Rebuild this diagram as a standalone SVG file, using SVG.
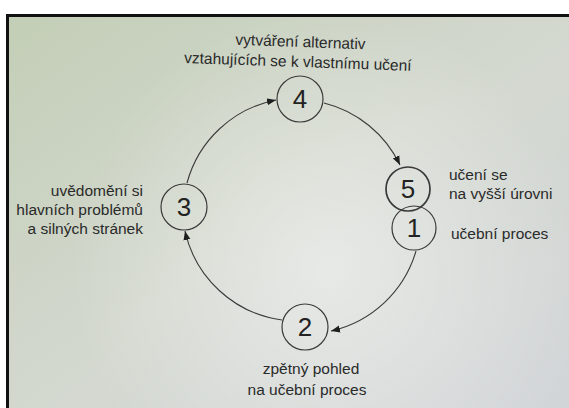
<svg xmlns="http://www.w3.org/2000/svg" width="569" height="408" viewBox="0 0 569 408">
  <defs>
    <linearGradient id="paper" x1="0" y1="0" x2="1" y2="1">
      <stop offset="0" stop-color="#c3ceb6"/>
      <stop offset="0.5" stop-color="#d3d8cf"/>
      <stop offset="1" stop-color="#d2d5d8"/>
    </linearGradient>
    <radialGradient id="glow" cx="330" cy="270" r="260" gradientUnits="userSpaceOnUse">
      <stop offset="0" stop-color="#ffffff" stop-opacity="0.45"/>
      <stop offset="1" stop-color="#ffffff" stop-opacity="0"/>
    </radialGradient>
    <marker id="arrow" markerWidth="10" markerHeight="8" refX="9" refY="4" orient="auto" markerUnits="userSpaceOnUse">
      <path d="M0,0.5 L9,4 L0,7.5 Z" fill="#1e1e1e"/>
    </marker>
    <style>
      .node circle { fill: none; stroke: #3a3a3a; stroke-width: 1.2; }
      .num { font-family: "Liberation Sans", Arial, sans-serif; font-size: 26px; fill: #222; text-anchor: middle; }
      .lbl { font-family: "Liberation Sans", Arial, sans-serif; font-size: 15.5px; fill: #2a2a2a; }
      .conn path { fill: none; stroke: #3a3a3a; stroke-width: 1.1; marker-end: url(#arrow); }
    </style>
  </defs>

  <!-- photo background -->
  <rect x="0" y="0" width="569" height="408" fill="#ffffff"/>
  <rect x="6" y="14" width="563" height="394" fill="#111111"/>
  <rect x="9" y="17" width="560" height="391" fill="url(#paper)"/>
  <rect x="9" y="17" width="560" height="391" fill="url(#glow)"/>

  <!-- connectors -->
  <g id="connectors" class="conn">
    <path d="M 187 183 A 115 115 0 0 1 276 100"/>
    <path d="M 324 103 A 115 115 0 0 1 400 165"/>
    <path d="M 416 251 A 115 115 0 0 1 331 331"/>
    <path d="M 282 320 A 115 115 0 0 1 185 231"/>
  </g>

  <!-- nodes -->
  <g id="node1" class="node">
    <circle cx="414" cy="228" r="22"/>
    <text class="num" x="414" y="237">1</text>
    <text class="lbl" x="451" y="239">učební proces</text>
  </g>
  <g id="node5" class="node">
    <circle cx="408" cy="189" r="22" style="stroke-width:1.7"/>
    <text class="num" x="408" y="198">5</text>
    <text class="lbl" x="449" y="180">učení se</text>
    <text class="lbl" x="449" y="199">na vyšší úrovni</text>
  </g>
  <g id="node2" class="node">
    <circle cx="305" cy="327" r="23"/>
    <text class="num" x="305" y="336">2</text>
    <text class="lbl" x="311" y="374" text-anchor="middle">zpětný pohled</text>
    <text class="lbl" x="307" y="395" text-anchor="middle">na učební proces</text>
  </g>
  <g id="node3" class="node">
    <circle cx="184" cy="207" r="23"/>
    <text class="num" x="184" y="216">3</text>
    <text class="lbl" x="143" y="196" text-anchor="end">uvědomění si</text>
    <text class="lbl" x="143" y="215" text-anchor="end">hlavních problémů</text>
    <text class="lbl" x="143" y="234" text-anchor="end">a silných stránek</text>
  </g>
  <g id="node4" class="node">
    <circle cx="300" cy="99" r="23"/>
    <text class="num" x="300" y="108">4</text>
    <g transform="rotate(2 300 57)">
      <text class="lbl" x="300" y="47" text-anchor="middle">vytváření alternativ</text>
      <text class="lbl" x="298" y="67" text-anchor="middle">vztahujících se k vlastnímu učení</text>
    </g>
  </g>
</svg>
